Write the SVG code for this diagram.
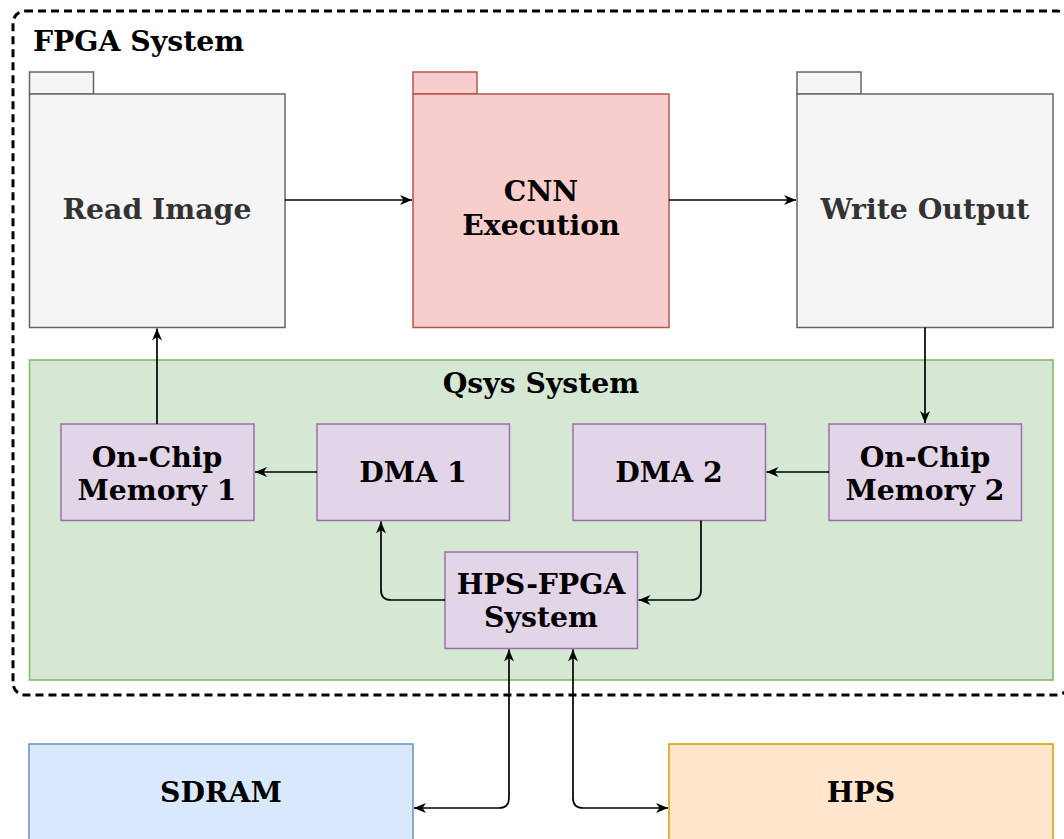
<svg xmlns="http://www.w3.org/2000/svg" width="1064" height="839" viewBox="0 0 1064 839">
  <style>
    .lbl { font-family: "DejaVu Serif", "Liberation Serif", serif; font-weight: bold; font-size: 28.3px; text-anchor: middle; fill: #000000; }
    .grey-lbl { fill: #333333; }
    .folder-grey { fill: #f5f5f5; stroke: #666666; stroke-width: 1.5; }
    .folder-red { fill: #f8cecc; stroke: #b85450; stroke-width: 1.5; }
    .purple { fill: #e1d5e7; stroke: #9673a6; stroke-width: 1.5; }
    .edge { fill: none; stroke: #000000; stroke-width: 1.7; }
  </style>
  <defs>
    <marker id="arrow" markerUnits="userSpaceOnUse" markerWidth="13" markerHeight="11" refX="12" refY="5" orient="auto-start-reverse" viewBox="0 0 13 11">
      <path d="M0,0 L12,5 L0,10 L3.5,5 Z" fill="#000000"/>
    </marker>
  </defs>

  <rect width="1064" height="839" fill="#ffffff"/>

  <!-- FPGA system boundary -->
  <g id="fpga-system">
    <rect x="13" y="11" width="1056" height="684" rx="12" ry="12" fill="none" stroke="#000000" stroke-width="3" stroke-dasharray="8 5"/>
    <text x="33" y="51" class="lbl" style="text-anchor:start">FPGA System</text>
  </g>

  <!-- Qsys container -->
  <g id="qsys-system">
    <rect x="29.5" y="360" width="1023.5" height="320" fill="#d5e8d4" stroke="#82b366" stroke-width="1.5"/>
    <text x="541" y="393" class="lbl">Qsys System</text>
  </g>

  <!-- Pipeline stages -->
  <g id="read-image">
    <rect x="29.5" y="72" width="64" height="22" class="folder-grey"/>
    <rect x="29.5" y="94" width="255.5" height="233.5" class="folder-grey"/>
    <text x="157" y="219" class="lbl grey-lbl">Read Image</text>
  </g>
  <g id="cnn-execution">
    <rect x="413" y="72" width="64" height="22" class="folder-red"/>
    <rect x="413" y="94" width="256" height="233.5" class="folder-red"/>
    <text x="541" y="201" class="lbl">CNN</text>
    <text x="541" y="235" class="lbl">Execution</text>
  </g>
  <g id="write-output">
    <rect x="797" y="72" width="64" height="22" class="folder-grey"/>
    <rect x="797" y="94" width="256" height="233.5" class="folder-grey"/>
    <text x="925" y="219" class="lbl grey-lbl">Write Output</text>
  </g>

  <!-- Qsys components -->
  <g id="on-chip-memory-1">
    <rect x="61" y="424" width="193" height="96.5" class="purple"/>
    <text x="157" y="467" class="lbl">On-Chip</text>
    <text x="157" y="500" class="lbl">Memory 1</text>
  </g>
  <g id="dma-1">
    <rect x="317" y="424" width="192.5" height="96.5" class="purple"/>
    <text x="413" y="482" class="lbl">DMA 1</text>
  </g>
  <g id="dma-2">
    <rect x="573" y="424" width="192.5" height="96.5" class="purple"/>
    <text x="669" y="482" class="lbl">DMA 2</text>
  </g>
  <g id="on-chip-memory-2">
    <rect x="829" y="424" width="192.5" height="96.5" class="purple"/>
    <text x="925" y="467" class="lbl">On-Chip</text>
    <text x="925" y="500" class="lbl">Memory 2</text>
  </g>
  <g id="hps-fpga-system">
    <rect x="445" y="552" width="192.5" height="96.5" class="purple"/>
    <text x="541" y="594" class="lbl">HPS-FPGA</text>
    <text x="541" y="627" class="lbl">System</text>
  </g>

  <!-- External blocks -->
  <g id="sdram">
    <rect x="29" y="744" width="384" height="110" fill="#dae8fc" stroke="#6c8ebf" stroke-width="1.5"/>
    <text x="221" y="802" class="lbl">SDRAM</text>
  </g>
  <g id="hps">
    <rect x="669" y="744" width="384" height="110" fill="#ffe6cc" stroke="#d79b00" stroke-width="1.5"/>
    <text x="861" y="802" class="lbl">HPS</text>
  </g>

  <!-- Connectors -->
  <g id="connectors">
    <path class="edge" d="M285,200 H412" marker-end="url(#arrow)"/>
    <path class="edge" d="M669,200 H796" marker-end="url(#arrow)"/>
    <path class="edge" d="M925,327.5 V423" marker-end="url(#arrow)"/>
    <path class="edge" d="M157,424 V328.5" marker-end="url(#arrow)"/>
    <path class="edge" d="M317,472 H255" marker-end="url(#arrow)"/>
    <path class="edge" d="M829,472 H766.5" marker-end="url(#arrow)"/>
    <path class="edge" d="M445,600 H391 Q381,600 381,590 V521.5" marker-end="url(#arrow)"/>
    <path class="edge" d="M701,520.5 V590 Q701,600 691,600 H638.5" marker-end="url(#arrow)"/>
    <path class="edge" d="M414,808 H499 Q509,808 509,798 V649.5" marker-start="url(#arrow)" marker-end="url(#arrow)"/>
    <path class="edge" d="M573,649.5 V798 Q573,808 583,808 H668" marker-start="url(#arrow)" marker-end="url(#arrow)"/>
  </g>
</svg>
